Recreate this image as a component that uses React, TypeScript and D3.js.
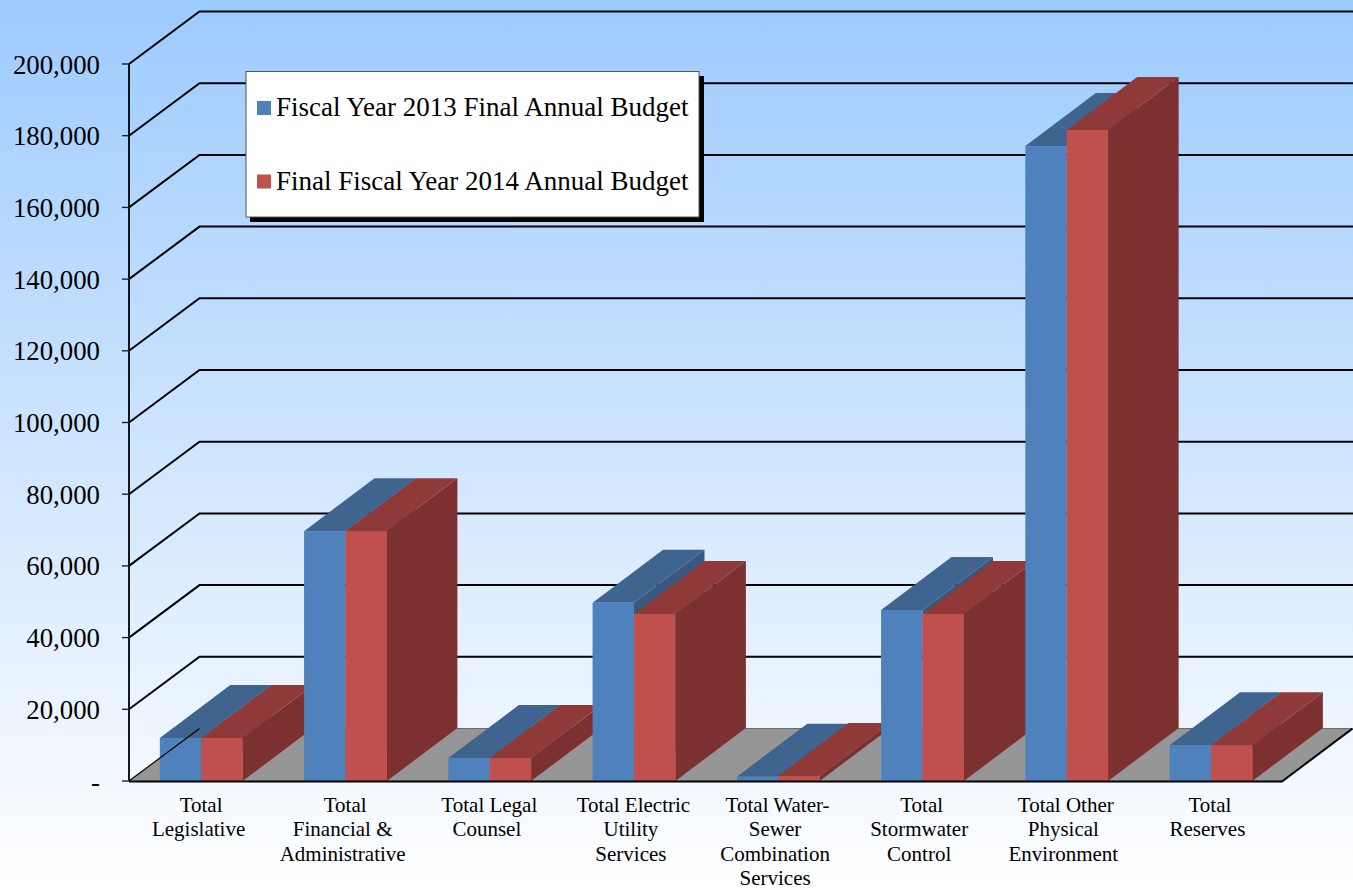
import React from "react";
import * as d3 from "d3";

const categories = [
  ["Total", "Legislative"],
  ["Total", "Financial &", "Administrative"],
  ["Total Legal", "Counsel"],
  ["Total Electric", "Utility", "Services"],
  ["Total Water-", "Sewer", "Combination", "Services"],
  ["Total", "Stormwater", "Control"],
  ["Total Other", "Physical", "Environment"],
  ["Total", "Reserves"],
];
const budget2013 = [12000, 69700, 6400, 49700, 1200, 47700, 177100, 10000];
const budget2014 = [12000, 69700, 6400, 46600, 1400, 46600, 181600, 10000];
const yTicks = [0, 20000, 40000, 60000, 80000, 100000, 120000, 140000, 160000, 180000, 200000];
const seriesNames = ["Fiscal Year 2013 Final Annual Budget", "Final Fiscal Year 2014 Annual Budget"];

const W = 1353;
const H = 890;
const left = 129;
const right = 1282;
const baseY = 781;
const topY = 64;
const depthX = 70.5;
const depthY = -52.5;
const barDepthY = -53;

const serif = "'Liberation Serif', 'Times New Roman', serif";

const palette = [
  { front: "#4F81BD", top: "#3E648F", side: "#38587F" },
  { front: "#C0504D", top: "#8F3A38", side: "#7C302F" },
];

const y = d3.scaleLinear().domain([0, 200000]).range([baseY, topY]);
const xBand = d3.scaleBand<number>().domain(d3.range(categories.length)).range([left, right]);
const barBand = d3.scaleBand<number>().domain(d3.range(categories.length)).range([left, right + 1]);
const barWidth = 41.4;
const groupOffset = (barBand.bandwidth() - 2 * barWidth) / 2 + 0.1;
const fmt = d3.format(",");

const poly = (pts: [number, number][]) => pts.map((p) => p.join(",")).join(" ");

function Bar({ x, v, c }: { x: number; v: number; c: (typeof palette)[number] }) {
  const yt = y(v);
  const x2 = x + barWidth;
  return (
    <g>
      <polygon points={poly([[x2, baseY], [x2 + depthX, baseY + barDepthY], [x2 + depthX, yt + barDepthY], [x2, yt]])} fill={c.side} />
      <polygon points={poly([[x, yt], [x + depthX, yt + barDepthY], [x2 + depthX, yt + barDepthY], [x2, yt]])} fill={c.top} />
      <rect x={x} y={yt} width={barWidth} height={baseY - yt} fill={c.front} />
    </g>
  );
}

export default function App() {
  return (
    <svg width={W} height={H} style={{ position: "absolute", left: 0, top: 0, display: "block" }}>
      <defs>
        <linearGradient id="bg" x1="0" y1="0" x2="0" y2="1">
          <stop offset="0" stopColor="#9DCBFF" />
          <stop offset="1" stopColor="#FFFFFF" />
        </linearGradient>
      </defs>
      <rect width={W} height={H} fill="url(#bg)" />

      {/* floor of the 3D plot */}
      <polygon
        points={poly([[left, baseY], [left + depthX, baseY + depthY], [right + depthX, baseY + depthY], [right, baseY]])}
        fill="#969696"
      />
      <line x1={left + depthX} x2={right + depthX} y1={baseY + depthY} y2={baseY + depthY} stroke="#555" strokeWidth={0.8} />

      {/* gridlines wrapping from the side wall onto the back wall */}
      {yTicks.filter((t) => t > 0).map((t) => (
        <polyline
          key={t}
          points={poly([[left, y(t)], [left + depthX, y(t) + depthY], [W, y(t) + depthY]])}
          fill="none"
          stroke="#000"
          strokeWidth={2}
        />
      ))}

      {/* bars, back to front within each group */}
      {categories.map((_, i) => {
        const x0 = barBand(i)! + groupOffset;
        return (
          <g key={i}>
            <Bar x={x0} v={budget2013[i]} c={palette[0]} />
            <Bar x={x0 + barWidth} v={budget2014[i]} c={palette[1]} />
          </g>
        );
      })}

      {/* axes */}
      <line x1={left} x2={left} y1={topY} y2={baseY} stroke="#000" strokeWidth={1.8} />
      <polyline
        points={poly([[left, baseY + 0.5], [right, baseY + 0.5], [right + depthX, baseY + depthY]])}
        fill="none"
        stroke="#000"
        strokeWidth={2}
      />
      <line x1={left} x2={left + depthX} y1={baseY} y2={baseY + depthY} stroke="#000" strokeWidth={1.2} />
      {yTicks.map((t) => (
        <g key={t}>
          <line x1={left - 7} x2={left} y1={y(t)} y2={y(t)} stroke="#222" strokeWidth={1.4} />
          <text x={100} y={y(t) + 9.5} textAnchor="end" fontFamily={serif} fontSize={26.8} fill="#000">
            {t === 0 ? "-" : fmt(t)}
          </text>
        </g>
      ))}

      {/* category labels */}
      {categories.map((lines, i) => {
        const cx = xBand(i)! + xBand.bandwidth() / 2;
        return (
          <text key={i} textAnchor="middle" fontFamily={serif} fontSize={21} fill="#000">
            {lines.map((l, j) => (
              <tspan key={j} x={j === 0 ? cx : cx - 2.5} y={811.5 + j * 24.6}>
                {l}
              </tspan>
            ))}
          </text>
        );
      })}

      {/* legend */}
      <rect x={250} y={76} width={454} height={146} fill="#000" />
      <rect x={246} y={71.5} width={453} height={145.5} fill="#fff" stroke="#555" strokeWidth={1} />
      {seriesNames.map((name, i) => {
        const ly = [108, 181.5][i];
        return (
          <g key={name}>
            <rect x={257} y={ly - 7} width={14} height={14} fill={palette[i].front} />
            <text x={276} y={ly + 8} fontFamily={serif} fontSize={27} fill="#000">
              {name}
            </text>
          </g>
        );
      })}
    </svg>
  );
}
